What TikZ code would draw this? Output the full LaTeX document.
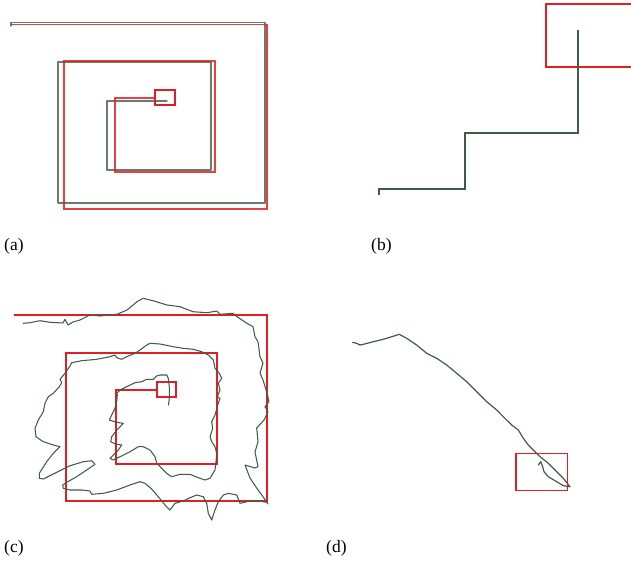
\documentclass[tikz,border=0pt]{standalone}
\usepackage{fontspec}
\setmainfont{Liberation Serif}
\definecolor{trackgreen}{HTML}{3C5E44}
\definecolor{boxred}{HTML}{E01E24}
\begin{document}
\begin{tikzpicture}[x=1pt,y=-1pt,
  gpath/.style={draw=trackgreen,line width=1.1pt,line join=round,line cap=round},
  rpath/.style={draw=boxred,line width=1.1pt,line join=miter},
  lbl/.style={font=\fontsize{17.5}{20}\selectfont,inner sep=0pt,anchor=west}]
\useasboundingbox (0,0) rectangle (631,566);
% ---------- (a)
\draw[gpath,draw opacity=0.8] (11,26) -- (11,22.5) -- (265,22.5) -- (265,203) -- (58,203) -- (58,62) -- (211,62) -- (211,170) -- (107,170) -- (107,101) -- (167,101);
\draw[rpath,draw opacity=0.85] (11,24.5) -- (267,24.5) -- (267,209) -- (64,209) -- (64,61) -- (215,61) -- (215,172) -- (115,172) -- (115,98) -- (155,98);
\draw[rpath] (155,90) rectangle (175,105);
\node[lbl] (la) at (4,246) {(a)};
% ---------- (b)
\draw[draw=boxred,line width=2.2pt] (632,4) -- (546,4) -- (546,67) -- (632,67);
\draw[draw=trackgreen,line width=2.5pt,line join=miter] (379,195) -- (379,189) -- (465,189) -- (465,133) -- (578,133) -- (578,30);
\node[lbl] (lb) at (371,246) {(b)};
% ---------- (c)
\draw[rpath] (14,315) -- (267,315) -- (267,501) -- (66,501) -- (66,353) -- (217,353) -- (217,464) -- (116,464) -- (116,390) -- (157,390);
\draw[rpath] (157,382) rectangle (176,397);
\draw[gpath,line width=1.05pt] (23.3,323.3) -- (30,322.7) -- (40,320.7) -- (50,322.3) -- (63,323) -- (65,319.3) -- (68,325) -- (73,322) -- (80,320) -- (90,315) -- (100,316) -- (117,314.3) -- (127,310) -- (137,301.7) -- (143,298.3) -- (153,300.7) -- (167,305) -- (180,306.7) -- (193,311.7) -- (207,312.7) -- (217,311) -- (220,314.3) -- (233,313.3) -- (237,316.7) -- (247,323.3) -- (253,326.7) -- (255,336.7) -- (258,341.7) -- (260,356.7) -- (263,363) -- (260,373) -- (263,380) -- (267,393) -- (269,401.7) -- (265,406.7) -- (268,412) -- (264,420) -- (256.7,428) -- (258,441.7) -- (255,452) -- (258,466.7) -- (255,468) -- (245,465) -- (250,478) -- (256.7,488) -- (263,496.7) -- (268,504) -- (266.7,502.3) -- (258.3,501) -- (250,501) -- (240,503.3) -- (236.7,495) -- (228.3,493.3) -- (223.3,495) -- (218.3,501.7) -- (215,510) -- (211.7,520) -- (208.3,513.3) -- (206.7,503.3) -- (203.3,496.7) -- (196.7,495) -- (190,497.7) -- (183.3,501) -- (175,503.3) -- (170,510) -- (165,505) -- (158.3,496.7) -- (151.7,489) -- (145,483.3) -- (140,481.7) -- (130,485) -- (116.7,490) -- (103.3,493.3) -- (91.7,494.3) -- (90,491) -- (81.7,490) -- (70,490) -- (63.3,488.3) -- (62.7,485) -- (66.7,482.3) -- (76.7,476.7) -- (86.7,470) -- (95,464.3) -- (91.7,460.7) -- (83.3,461.7) -- (70,465.7) -- (56.7,472.3) -- (43.3,479) -- (39.3,478.3) -- (39.3,473.3) -- (46.7,461.7) -- (53.3,453.3) -- (60,446.7) -- (53.3,445) -- (43.3,441.7) -- (36,436.7) -- (35,428.3) -- (38.3,420) -- (43.3,411.7) -- (45,403.3) -- (48.3,396.7) -- (53.3,393.3) -- (59.3,386.7) -- (61.7,382.7) -- (60,379.3) -- (65,373.3) -- (70,366) -- (71.7,362.7) -- (81.7,360.7) -- (96.7,359.3) -- (110,356.7) -- (115,355) -- (116.7,357.7) -- (121.7,359.3) -- (126.7,356.7) -- (135,353.3) -- (140,350) -- (146.7,345) -- (150,343.3) -- (160,344) -- (173.3,346.7) -- (183.3,348.3) -- (193.3,349.3) -- (201.7,351.7) -- (208.3,355) -- (213.3,360) -- (215,368.3) -- (219.3,373.3) -- (221.7,378.3) -- (218.3,383.3) -- (220,390) -- (217.3,396.7) -- (220,398.3) -- (218.3,403.3) -- (215,415) -- (211.7,421.7) -- (212.7,428.3) -- (210,436.7) -- (211.7,441.7) -- (215,446.7) -- (216.7,453.3) -- (216,461.7) -- (215,470) -- (210,478.3) -- (205,480) -- (198.3,477.7) -- (190,474.3) -- (180,474.3) -- (171.7,476.7) -- (166.7,473.3) -- (161.7,468.3) -- (156.7,463.3) -- (155,456.7) -- (150,450) -- (143.3,446.7) -- (138.3,446.7) -- (130,451.7) -- (120,456.7) -- (113.3,460) -- (110,458.3) -- (113.3,455) -- (118.3,450) -- (121.7,445) -- (116,444.3) -- (110.7,441.7) -- (111.7,436.7) -- (116,431) -- (123.3,423.3) -- (116.7,422.3) -- (109.3,420) -- (111.7,415) -- (115,408.3) -- (116.7,401.7) -- (117.3,395) -- (116.7,393.3) -- (120,390) -- (126.7,386.7) -- (135,382.7) -- (141.7,381.7) -- (146.7,379.3) -- (153.3,379.3) -- (156.7,376) -- (160,375) -- (166.7,375) -- (168.3,378.3) -- (169.3,386.7) -- (169.3,398.3) -- (168.5,405);
\node[lbl] (lc) at (4,548) {(c)};
% ---------- (d)
\draw[gpath,line width=1.2pt] (352.7,342.3) -- (356.7,343.3) -- (360,345) -- (363.3,344.3) -- (373.3,341.7) -- (383.3,339.3) -- (391.7,336.7) -- (399.3,334.3) -- (406.7,338.3) -- (416.7,345) -- (426.7,353.3) -- (436.7,358.3) -- (446.7,365) -- (456.7,373.3) -- (466.7,381.7) -- (476.7,391.7) -- (486.7,401.7) -- (496.7,410) -- (503.3,416.7) -- (511.7,425) -- (518.3,430) -- (523.3,438.3) -- (528.3,445) -- (533.3,450) -- (540,456.7) -- (548.3,463.3) -- (556.7,471.7) -- (563.3,478.3) -- (570,486.7) -- (563.3,485.7) -- (556.7,481.7) -- (548.3,476.7) -- (544,471.7) -- (542.7,466.7) -- (540.7,461.7) -- (538.3,465);
\draw[rpath,line width=1.2pt] (516,453.3) rectangle (567.7,490.7);
\node[lbl] (ld) at (326,548) {(d)};
\end{tikzpicture}
\end{document}
